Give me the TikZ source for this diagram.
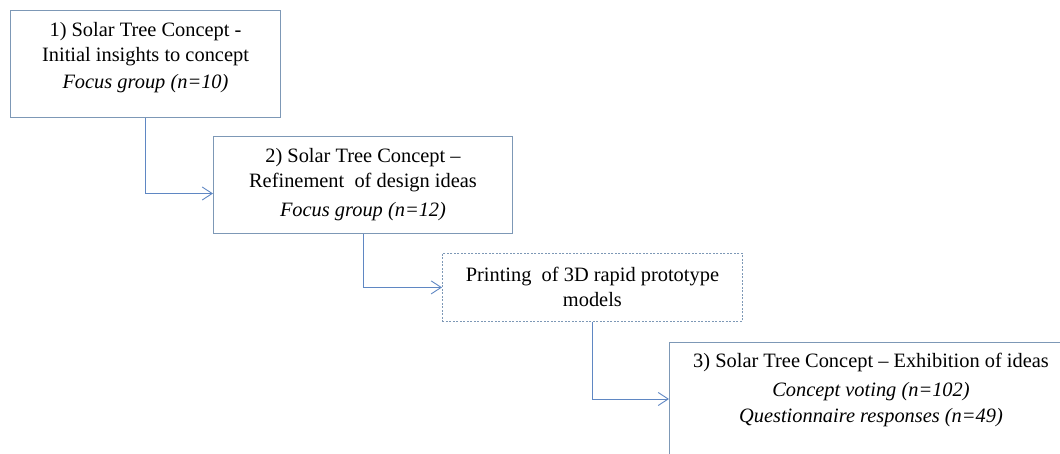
\documentclass[tikz,border=0pt]{standalone}
\usepackage{fontspec}
\setmainfont{Liberation Serif}
\usetikzlibrary{arrows.meta}

\definecolor{boxline}{RGB}{125,152,182}
\definecolor{linkline}{RGB}{95,135,195}

\tikzset{
  stagebox/.style={draw=boxline, line width=1pt, anchor=north west, align=center,
    inner sep=0pt, font=\fontsize{20.4}{25}\selectfont},
  link/.style={draw=linkline, line width=0.9pt, -{Straight Barb[length=10pt,width=13pt]}}
}

\begin{document}
\begin{tikzpicture}[x=1pt,y=-1pt]
    \useasboundingbox (0,0) rectangle (1060,454);
    \clip (0,0) rectangle (1060,454);

    % -- Stufe 1 --
    \node[stagebox, minimum width=270, minimum height=107, text depth=18pt] (s1) at (10,10)
        {1) Solar Tree Concept -\\ Initial insights to concept\\[2pt] \textit{Focus group (n=10)}};

    % -- Stufe 2 --
    \node[stagebox, minimum width=299, minimum height=97] (s2) at (213,136)
        {2) Solar Tree Concept --\\ Refinement\ \ of design ideas\\[4pt] \textit{Focus group (n=12)}};

    % -- Prototypen (gestrichelt) --
    \node[stagebox, dash pattern=on 2pt off 1.5pt, line width=0.8pt,
        minimum width=300, minimum height=68] (pr) at (442,253)
        {Printing\ \ of 3D rapid prototype\\ models};

    % -- Stufe 3 (rechts/unten abgeschnitten) --
    \node[stagebox, minimum width=403, minimum height=128, text depth=37pt] (s3) at (669,342)
        {3) Solar Tree Concept -- Exhibition of ideas\\[4pt] \textit{Concept voting (n=102)}\\[1pt]
         \textit{Questionnaire responses (n=49)}};

    % -- Verbindungen --
    \draw[link] (s1.south) |- ([yshift=-8.5pt]s2.west);
    \draw[link] (s2.south) |- (pr.west);
    \draw[link] (pr.south) |- ([yshift=-57pt]s3.north west);
\end{tikzpicture}
\end{document}
